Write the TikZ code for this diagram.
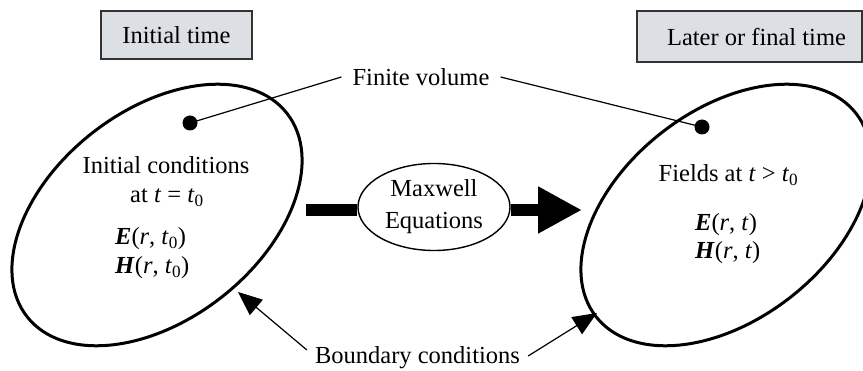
\documentclass[tikz,border=0pt]{standalone}
\usepackage{fontspec}
\setmainfont{Liberation Serif}
\usetikzlibrary{shapes.geometric,arrows.meta}
\definecolor{boxfill}{HTML}{DCDFE4}
\definecolor{boxline}{HTML}{333333}
\tikzset{
  every node/.style={font=\fontsize{24.5}{32}\selectfont},
  tbox/.style={draw=boxline, fill=boxfill, line width=1.5pt, inner sep=0pt},
  vol/.style={draw, ellipse, line width=3pt, minimum width=330pt, minimum height=209pt, inner sep=0pt, rotate=38},
  dotnode/.style={circle, fill=black, minimum width=15pt, minimum height=14pt, inner sep=0pt},
  thin/.style={line width=1.2pt},
  bcarrow/.style={line width=1.2pt, -{Triangle[length=24pt,width=20pt]}},
  mxnode/.style={draw, ellipse, line width=1.4pt, fill=white, minimum width=152pt, minimum height=87pt, inner sep=0pt, align=center},
  bar/.style={line width=12pt}
}
\newcommand{\ital}[1]{\textit{#1}}
\newcommand{\bi}[1]{\textbf{\textit{#1}}}
\begin{document}
\begin{tikzpicture}[x=1pt,y=-1pt]
\useasboundingbox (0,0) rectangle (863,371);
\clip (0,0) rectangle (863,371);
% title boxes
\node[tbox, minimum width=151pt, minimum height=48pt] (init) at (176.5,35) {Initial time};
\node[tbox, minimum width=225pt, minimum height=51pt] (later) at (749.5,36.5) {\hspace*{14pt}Later or final time};
% volumes
\node[vol] (vol1) at (157,215) {};
\node[vol] (vol2) at (726,215) {};
% dots
\node[dotnode] (dot1) at (190,123) {};
\node[dotnode] (dot2) at (702,127) {};
% texts left
\node (ic1) at (166,165) {Initial conditions};
\node (ic2) at (167,198) {at \ital{t} = \ital{t}\textsubscript{0}};
\node[anchor=west, inner sep=0pt] (e1) at (115,239) {\bi{E}(\ital{r}, \ital{t}\textsubscript{0})};
\node[anchor=west, inner sep=0pt] (h1) at (115,268) {\bi{H}(\ital{r}, \ital{t}\textsubscript{0})};
% texts right
\node (fl) at (728.5,175) {Fields at \ital{t} > \ital{t}\textsubscript{0}};
\node[anchor=west, inner sep=0pt] (e2) at (695,225) {\bi{E}(\ital{r}, \ital{t})};
\node[anchor=west, inner sep=0pt] (h2) at (695,253) {\bi{H}(\ital{r}, \ital{t})};
% finite volume
\node[inner xsep=11pt] (fv) at (421,77) {Finite volume};
\draw[thin] (fv.west) -- (dot1.center);
\draw[thin] (fv.east) -- (dot2.center);
% boundary conditions
\node[inner xsep=8pt] (bc) at (417.5,358) {Boundary conditions};
\coordinate (tipL) at (238,292);
\coordinate (tipR) at (597,313);
\draw[bcarrow] ([yshift=8pt]bc.west) -- (tipL);
\draw[bcarrow] ([yshift=2pt]bc.east) -- (tipR);
% Maxwell
\node[mxnode] (mx) at (434,207) {Maxwell\\Equations};
\coordinate (barstart) at (306,210);
\coordinate (bigtip) at (582,210);
\draw[bar] (barstart) -- (mx.west |- barstart);
\draw[bar, -{Triangle[length=44pt,width=44pt]}] (mx.east |- barstart) -- (bigtip);
\end{tikzpicture}
\end{document}
